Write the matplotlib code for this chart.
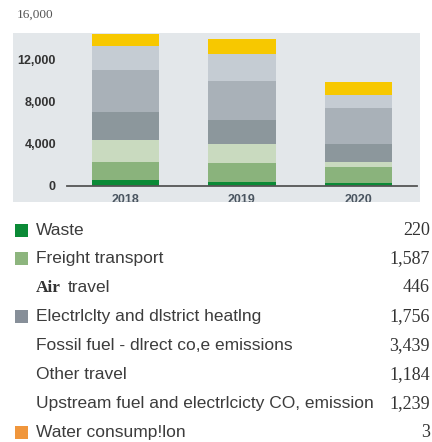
import numpy as np
import matplotlib
matplotlib.use("Agg")
import matplotlib.pyplot as plt
from matplotlib.patches import Rectangle

years = ["2018", "2019", "2020"]

waste = [500, 350, 220]
freight = [1770, 1770, 1587]
air_travel = [2040, 1815, 446]
electricity = [2700, 2320, 1756]
fossil_fuel = [3980, 3725, 3439]
other_travel = [2320, 2580, 1184]
upstream = [1200, 1400, 1239]
water = [3, 3, 3]

series = [waste, freight, air_travel, electricity, fossil_fuel, other_travel, upstream, water]
colors = ["#0b8a36", "#8ab37c", "#c9dabf", "#8c979c", "#a9b1b8", "#c5ccd3", "#f7c800", "#f0963c"]

legend_labels = [
    "Waste",
    "Freight transport",
    "Air travel",
    "Electrlclty and dlstrict heatlng",
    "Fossil fuel - dlrect co,e emissions",
    "Other travel",
    "Upstream fuel and electrlcicty CO, emission",
    "Water consump!lon",
]
legend_values = ["220", "1,587", "446", "1,756", "3,439", "1,184", "1,239", "3"]
legend_markers = ["#0b8a36", "#8db57e", None, "#878f99", None, None, None, "#f0963c"]

yticks = [0, 4000, 8000, 12000]
ytick_labels = ["0", "4,000", "8,000", "12,000"]

W, H = 432, 442
fig = plt.figure(figsize=(W / 100, H / 100), dpi=100)

# grey panel behind the chart
fig.add_artist(Rectangle((13 / W, 1 - 203 / H), 407 / W, 170 / H,
                         transform=fig.transFigure, facecolor="#e3e7ea",
                         edgecolor="none", zorder=-1))

ax = fig.add_axes([67 / W, 1 - 185.5 / H, 350 / W, (185.5 - 18) / H])
ax.patch.set_visible(False)

x = np.arange(len(years))
bottom = np.zeros(len(years))
for vals, c in zip(series, colors):
    ax.bar(x, vals, bottom=bottom, width=0.575, color=c, edgecolor="none")
    bottom += np.array(vals)

ax.set_xlim(-0.5, 2.5)
ax.set_ylim(0, 16000)
for s in ["top", "right", "left"]:
    ax.spines[s].set_visible(False)
ax.spines["bottom"].set_color("#555555")
ax.spines["bottom"].set_linewidth(1.3)

ax.set_yticks(yticks)
ax.set_yticklabels(ytick_labels, fontfamily="Liberation Sans", fontweight="bold",
                   fontsize=9, color="#333333")
ax.set_xticks(x)
ax.set_xticklabels(years, fontfamily="Liberation Sans", fontweight="bold",
                   fontsize=9, color="#4a5560")
ax.tick_params(axis="y", length=0, pad=8)
ax.tick_params(axis="x", length=0, pad=6)

ax.annotate("16,000", xy=(0, 16000), xycoords=("axes fraction", "data"),
            xytext=(-14, 3), textcoords="offset pixels", ha="right", va="center",
            fontfamily="Liberation Serif", fontsize=9.5, color="#555555",
            annotation_clip=False)

# white area below the panel (cuts the year labels like the original)
fig.add_artist(Rectangle((0, 0), 1, 1 - 202 / H, transform=fig.transFigure,
                         facecolor="white", edgecolor="none", zorder=2))

# legend table
row_y = 230
step = 28.9
for label, value, mc in zip(legend_labels, legend_values, legend_markers):
    yf = 1 - row_y / H
    if mc is not None:
        fig.add_artist(Rectangle((15 / W, 1 - (row_y + 6.5) / H), 13 / W, 13 / H,
                                 transform=fig.transFigure, facecolor=mc,
                                 edgecolor="none", zorder=4))
    if label == "Air travel":
        fig.text(36 / W, yf, "Air", ha="left", va="center", fontfamily="Liberation Serif",
                 fontweight="bold", fontsize=12.5, color="#333333", zorder=5)
        fig.text(68 / W, yf, "travel", ha="left", va="center", fontfamily="Liberation Sans",
                 fontsize=12.5, color="#3c3c3c", zorder=5)
    else:
        fig.text(36 / W, yf, label, ha="left", va="center", fontfamily="Liberation Sans",
                 fontsize=12.5, color="#3c3c3c", zorder=5)
    fig.text(430 / W, yf, value, ha="right", va="center", fontfamily="Liberation Serif",
             fontsize=13, color="#333333", zorder=5)
    row_y += step

fig.savefig("out.png", dpi=100)
